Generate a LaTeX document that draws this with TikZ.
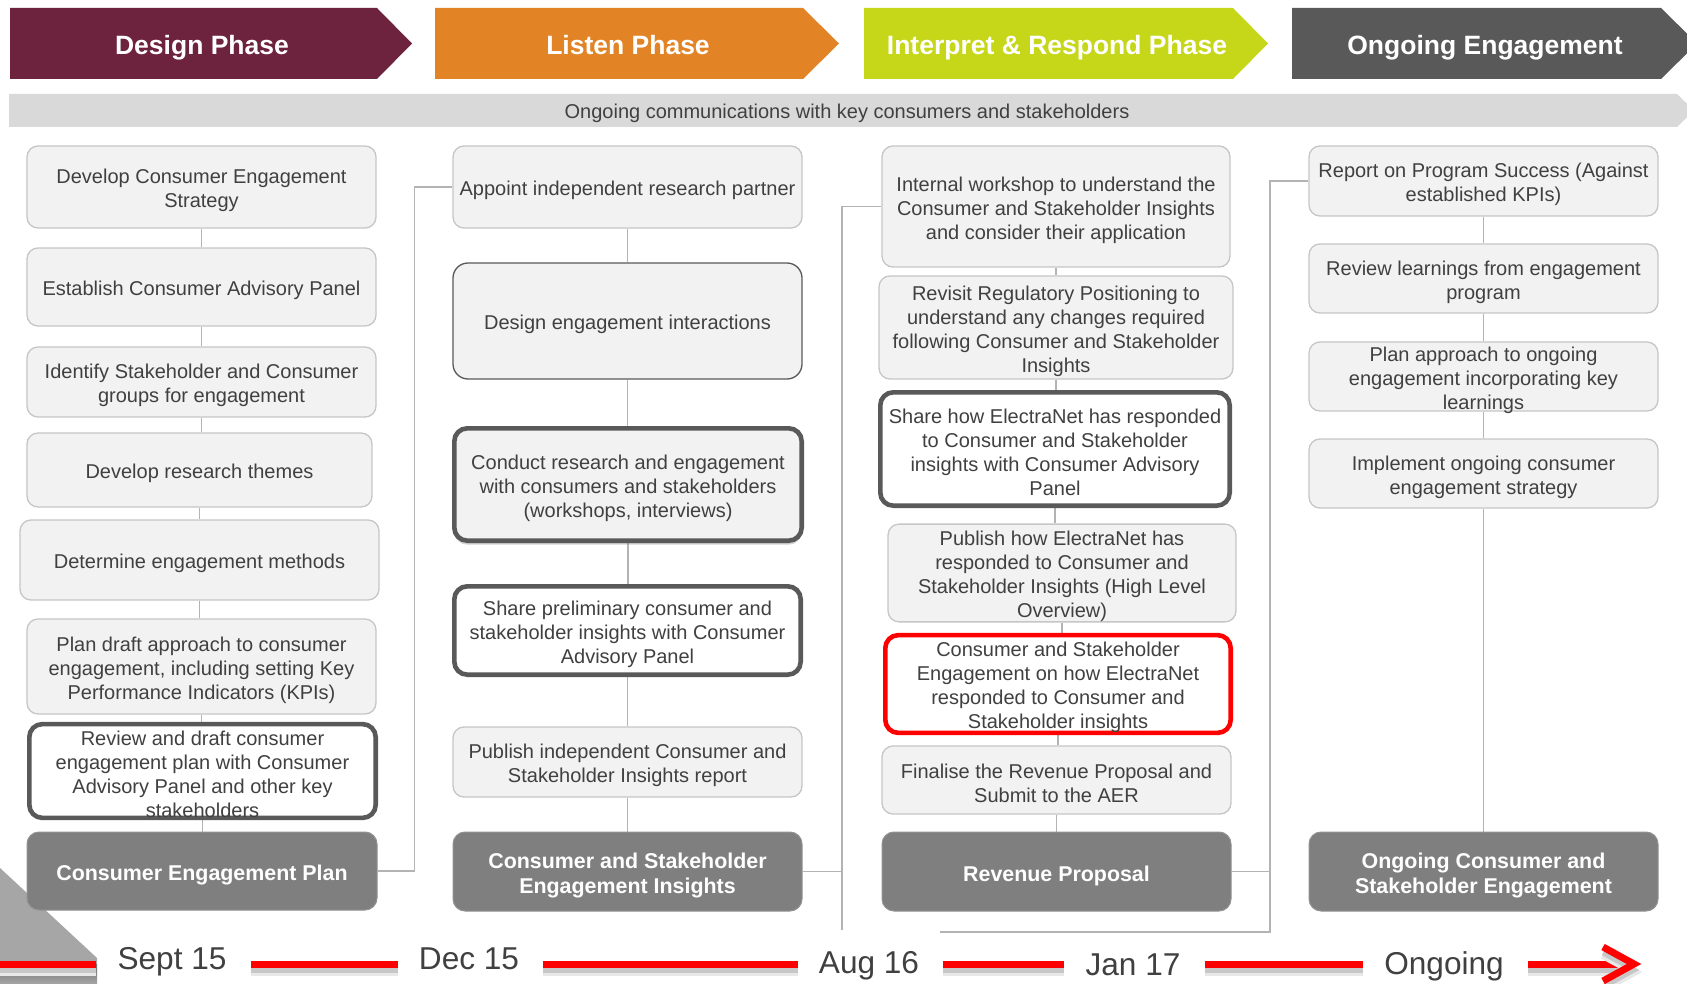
\documentclass[tikz,border=0pt]{standalone}
\usepackage{fontspec}
\setmainfont{Liberation Sans}
\usetikzlibrary{shadows,calc}
\pgfdeclarelayer{background}
\pgfsetlayers{background,main}
\definecolor{cDesign}{HTML}{6D233D}
\definecolor{cListen}{HTML}{E28426}
\definecolor{cInterp}{HTML}{C6D71A}
\definecolor{cOngo}{HTML}{595959}
\definecolor{cBand}{HTML}{D9D9D9}
\definecolor{cTxt}{HTML}{404040}
\definecolor{cFill}{HTML}{F2F2F2}
\definecolor{cLine}{HTML}{C6C6C6}
\definecolor{cThick}{HTML}{595959}
\definecolor{cDark}{HTML}{7F7F7F}
\definecolor{cConn}{HTML}{B3B3B3}
\definecolor{cRed}{HTML}{FF0000}
\definecolor{cTri}{HTML}{A6A6A6}
\definecolor{cTriDark}{HTML}{6E6E6E}
\newcommand\myfs{\rule{0pt}{21.6pt}}
\newcommand\mydfs{\rule{0pt}{23.6pt}}
\begin{document}
\begin{tikzpicture}[x=1pt,y=-1pt,
  base/.style={rectangle, rounded corners=11pt, align=center, inner sep=0pt, text=cTxt, font=\fontsize{20}{24}\selectfont},
  lbox/.style={base, fill=cFill, draw=cLine, line width=1.3pt},
  obox/.style={base, fill=cFill, draw=cThick, line width=1.3pt, rounded corners=15pt},
  tbox/.style={base, fill=white, draw=cThick, line width=4.6pt, rounded corners=13pt},
  rbox/.style={base, fill=white, draw=cRed, line width=4.6pt, rounded corners=13pt},
  dbox/.style={rectangle, rounded corners=12pt, fill=cDark, draw=cDark!85!white, line width=1pt, text=white, align=center, inner sep=0pt, font=\bfseries\fontsize{21.4}{25.7}\selectfont},
  boxtext/.style={align=center, inner sep=0pt, text=cTxt, font=\fontsize{20}{24}\selectfont},
  hdr/.style={text=white, inner sep=0pt, font=\bfseries\fontsize{26.5}{30}\selectfont},
  bandtxt/.style={text=cTxt, inner sep=0pt, font=\fontsize{20}{24}\selectfont},
  tlab/.style={text=cTxt, inner sep=0pt, text height=22.6pt, text depth=4pt, font=\fontsize{31.6}{36}\selectfont},
  conn/.style={draw=cConn, line width=1.6pt},
  redline/.style={draw=cRed, line width=7pt,
    preaction={draw=black!9, line width=8pt, transform canvas={yshift=-8pt}},
    preaction={draw=black!22, line width=5pt, transform canvas={yshift=-6pt}}}
]
\useasboundingbox (0,0) rectangle (1687,984);

% ---------- header chevrons ----------
\fill[cDesign] (10,8) -- (377,8) -- (412,43.5) -- (377,79) -- (10,79) -- cycle;
\node[hdr] (h1) at (202,47.5) {Design Phase};
\fill[cListen] (435,8) -- (803,8) -- (839,43.5) -- (803,79) -- (435,79) -- cycle;
\node[hdr] (h2) at (628,45.5) {Listen Phase};
\fill[cInterp] (864,8) -- (1233,8) -- (1268,43.5) -- (1233,79) -- (864,79) -- cycle;
\node[hdr] (h3) at (1057,47.5) {Interpret \& Respond Phase};
\fill[cOngo] (1292,8) -- (1661,8) -- (1697,43.5) -- (1661,79) -- (1292,79) -- cycle;
\node[hdr] (h4) at (1485,47.5) {Ongoing Engagement};

% ---------- band ----------
\fill[cBand] (9,94) -- (1677,94) -- (1694,110.5) -- (1677,127) -- (9,127) -- cycle;
\node[bandtxt] (band) at (847,113) {Ongoing communications with key consumers and stakeholders};

% ---------- corner triangle ----------
\fill[cTri] (0,868) -- (97,958) -- (97,964) -- (0,964) -- cycle;
\shade[top color=cTriDark, bottom color=cTri] (0,964) rectangle (97,984);

% ---------- column 1 ----------
\node[lbox, minimum width=349pt, minimum height=82pt] (b11) at (201.5,187) {\myfs Develop Consumer Engagement\\Strategy};
\node[lbox, minimum width=349pt, minimum height=78pt] (b12) at (201.5,287) {\myfs Establish Consumer Advisory Panel};
\node[lbox, minimum width=349pt, minimum height=70pt] (b13) at (201.5,382) {\myfs Identify Stakeholder and Consumer\\groups for engagement};
\node[lbox, minimum width=345pt, minimum height=74pt] (b14) at (199.5,470) {\myfs Develop research themes};
\node[lbox, minimum width=359pt, minimum height=80pt] (b15) at (199.5,560) {\myfs Determine engagement methods};
\node[lbox, minimum width=349pt, minimum height=95pt] (b16) at (201.5,666.5) {\myfs Plan draft approach to consumer\\engagement, including setting Key\\Performance Indicators (KPIs)};
\node[tbox, minimum width=346.4pt, minimum height=91.4pt] (b17) at (202.5,771) {\myfs Review and draft consumer\\engagement plan with Consumer\\Advisory Panel and other key\\stakeholders};
\node[dbox, minimum width=350pt, minimum height=78pt] (d1) at (202,871) {\mydfs Consumer Engagement Plan};

% ---------- column 2 ----------
\node[lbox, minimum width=349pt, minimum height=82pt] (b21) at (627.5,187) {\myfs Appoint independent research partner};
\node[obox, minimum width=349pt, minimum height=116pt] (b22) at (627.5,321) {\myfs Design engagement interactions};
\node[tbox, fill=cFill, drop shadow={shadow xshift=0pt, shadow yshift=-4pt, opacity=0.35}, minimum width=347.4pt, minimum height=112.4pt] (b23) at (628,484.5) {\myfs Conduct research and engagement\\with consumers and stakeholders\\(workshops, interviews)};
\node[tbox, minimum width=346.4pt, minimum height=88.4pt] (b24) at (627.5,630.5) {\myfs Share preliminary consumer and\\stakeholder insights with Consumer\\Advisory Panel};
\node[lbox, minimum width=349pt, minimum height=70pt] (b25) at (627.5,762) {\myfs Publish independent Consumer and\\Stakeholder Insights report};
\node[dbox, minimum width=349pt, minimum height=79pt] (d2) at (627.5,871.5) {\mydfs Consumer and Stakeholder\\Engagement Insights};

% ---------- column 3 ----------
\node[lbox, minimum width=348pt, minimum height=121pt] (b31) at (1056,206.5) {\myfs Internal workshop to understand the\\Consumer and Stakeholder Insights\\and consider their application};
\node[lbox, minimum width=354pt, minimum height=103pt] (b32) at (1056,327.5) {\myfs Revisit Regulatory Positioning to\\understand any changes required\\following Consumer and Stakeholder\\Insights};
\node[tbox, minimum width=349.4pt, minimum height=113.4pt] (b33) at (1055,449) {\myfs Share how ElectraNet has responded\\to Consumer and Stakeholder\\insights with Consumer Advisory\\Panel};
\node[lbox, minimum width=348pt, minimum height=96pt] (b34) at (1062,573) {\myfs Publish how ElectraNet has\\responded to Consumer and\\Stakeholder Insights (High Level\\Overview)};
\node[rbox, minimum width=345.4pt, minimum height=93.4pt] (b35) at (1058,684) {\myfs Consumer and Stakeholder\\Engagement on how ElectraNet\\responded to Consumer and\\Stakeholder insights};
\node[lbox, minimum width=349pt, minimum height=68pt] (b36) at (1056.5,780) {\myfs Finalise the Revenue Proposal and\\Submit to the AER};
\node[dbox, minimum width=349pt, minimum height=79pt] (d3) at (1056.5,871.5) {\mydfs Revenue Proposal};

% ---------- column 4 ----------
\node[lbox, minimum width=349pt, minimum height=70pt] (b41) at (1483.5,181) {\myfs Report on Program Success (Against\\established KPIs)};
\node[lbox, minimum width=349pt, minimum height=69pt] (b42) at (1483.5,278.5) {\myfs Review learnings from engagement\\program};
\node[lbox, minimum width=349pt, minimum height=69pt,
  label={[boxtext]center:{\myfs Plan approach to ongoing\\engagement incorporating key\\learnings}}] (b43) at (1483.5,376.5) {};
\node[lbox, minimum width=349pt, minimum height=69pt] (b44) at (1483.5,473.5) {\myfs Implement ongoing consumer\\engagement strategy};
\node[dbox, minimum width=349pt, minimum height=79pt] (d4) at (1483.5,871.5) {\mydfs Ongoing Consumer and\\Stakeholder Engagement};

% ---------- connectors ----------
\begin{pgfonlayer}{background}
\fill[white] (0,0) rectangle (1687,984);
\foreach \a/\b in {b11/b12,b12/b13,b13/b14,b14/b15,b15/b16,b16/b17,b17/d1,
                   b21/b22,b22/b23,b23/b24,b24/b25,b25/d2,
                   b31/b32,b32/b33,b33/b34,b34/b35,b35/b36,b36/d3,
                   b41/b42,b42/b43,b43/b44,b44/d4}
  \draw[conn] (\a.south) -- (\a.south |- \b.north);
\draw[conn] (d1.east) -- ++(37,0) |- (b21.west);
\coordinate (c2b) at (842,930);
\draw[conn] (b31.west) -| (c2b);
\draw[conn] (d2.east) -- (d2.east -| c2b);
\coordinate (c3b) at (1270,932);
\coordinate (c3e) at (940,932);
\draw[conn] (b41.west) -| (c3b) -- (c3e);
\draw[conn] (d3.east) -- (d3.east -| c3b);
\end{pgfonlayer}

% ---------- timeline ----------
\node[tlab] (t1) at (172,960.5) {Sept 15};
\node[tlab] (t2) at (469,960) {Dec 15};
\node[tlab] (t3) at (869,964.5) {Aug 16};
\node[tlab] (t4) at (1133,966.5) {Jan 17};
\node[tlab] (t5) at (1444,965.5) {Ongoing};
\coordinate (tl0) at (0,964);
\coordinate (tip) at (1634,964);
\draw[redline] (tl0) -- ($(t1.west |- tl0)+(-21,0)$);
\draw[redline] ($(t1.east |- tl0)+(24,0)$) -- ($(t2.west |- tl0)+(-21,0)$);
\draw[redline] ($(t2.east |- tl0)+(24,0)$) -- ($(t3.west |- tl0)+(-21,0)$);
\draw[redline] ($(t3.east |- tl0)+(24,0)$) -- ($(t4.west |- tl0)+(-21,0)$);
\draw[redline] ($(t4.east |- tl0)+(24,0)$) -- ($(t5.west |- tl0)+(-21,0)$);
\draw[redline] ($(t5.east |- tl0)+(24,0)$) -- (tip);
\draw[redline, line join=miter] ($(tip)+(-31,-17)$) -- (tip) -- ($(tip)+(-31,17)$);
\end{tikzpicture}
\end{document}
